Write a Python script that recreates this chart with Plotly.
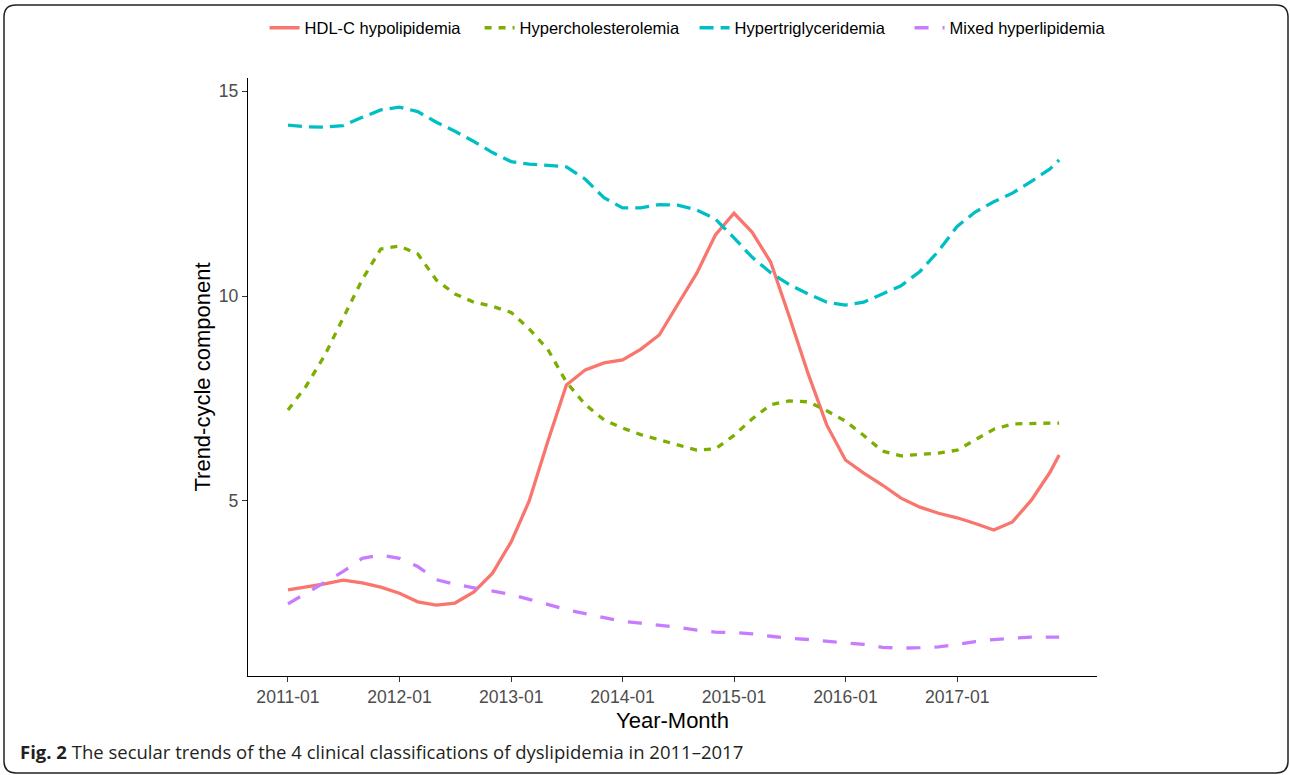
import pandas as pd
import plotly.graph_objects as go

# ---- data (bi-monthly trend-cycle values) ----
months = [d.strftime("%Y-%m-%d") for d in pd.date_range("2011-01-01", "2017-11-01", freq="2MS")] + ["2017-12-01"]

hdl_c = [2.83, 2.90, 2.98, 3.07, 3.00, 2.90, 2.75, 2.54, 2.46, 2.51, 2.78, 3.24,
         4.00, 5.00, 6.45, 7.83, 8.20, 8.37, 8.44, 8.70, 9.05, 9.80, 10.56, 11.49,
         12.02, 11.56, 10.83, 9.50, 8.10, 6.85, 6.00, 5.68, 5.39, 5.07, 4.85, 4.70,
         4.59, 4.45, 4.29, 4.49, 5.02, 5.70, 6.12]
hyperchol = [7.22, 7.80, 8.55, 9.45, 10.40, 11.15, 11.22, 11.03, 10.39, 10.05, 9.85, 9.75,
             9.60, 9.20, 8.70, 7.90, 7.35, 6.98, 6.78, 6.62, 6.50, 6.37, 6.24, 6.27,
             6.60, 7.00, 7.35, 7.44, 7.42, 7.20, 6.95, 6.60, 6.22, 6.10, 6.13, 6.17,
             6.24, 6.50, 6.75, 6.88, 6.90, 6.90, 6.90]
hypertg = [14.17, 14.13, 14.12, 14.16, 14.36, 14.54, 14.61, 14.50, 14.24, 14.02, 13.77, 13.50,
           13.28, 13.22, 13.19, 13.15, 12.85, 12.40, 12.15, 12.15, 12.23, 12.22, 12.10, 11.88,
           11.42, 10.95, 10.57, 10.28, 10.05, 9.85, 9.78, 9.85, 10.05, 10.25, 10.60, 11.10,
           11.70, 12.05, 12.30, 12.51, 12.80, 13.10, 13.32]
mixed = [2.49, 2.75, 3.00, 3.28, 3.60, 3.68, 3.60, 3.40, 3.08, 2.97, 2.88, 2.80,
         2.72, 2.60, 2.48, 2.35, 2.25, 2.15, 2.06, 2.02, 1.98, 1.92, 1.85, 1.80,
         1.79, 1.76, 1.70, 1.65, 1.62, 1.58, 1.55, 1.50, 1.43, 1.41, 1.42, 1.44,
         1.50, 1.57, 1.62, 1.65, 1.68, 1.68, 1.68]

series_names = ["HDL-C hypolipidemia", "Hypercholesterolemia", "Hypertriglyceridemia", "Mixed hyperlipidemia"]
series_values = [hdl_c, hyperchol, hypertg, mixed]
colors = ["#F8766D", "#7CAE00", "#00BFC4", "#C77CFF"]
dashes = ["solid", "7px,7px", "14px,7px", "14px,14px"]

x_ticks = ["2011-01-01", "2012-01-01", "2013-01-01", "2014-01-01", "2015-01-01", "2016-01-01", "2017-01-01"]
x_ticktext = ["2011-01", "2012-01", "2013-01", "2014-01", "2015-01", "2016-01", "2017-01"]
y_ticks = [5, 10, 15]

# ---- layout geometry (page pixels) ----
W, H = 1290, 775
L, R, T, B = 248, 1097, 78, 676
pw, ph = R - L, B - T

def px(xp):
    return (xp - L) / pw

def py(yp):
    return (B - yp) / ph

fig = go.Figure()
for name, vals, c, d in zip(series_names, series_values, colors, dashes):
    fig.add_trace(go.Scatter(x=months, y=vals, mode="lines", name=name,
                             line=dict(color=c, width=3.3, dash=d)))

# rounded border around the whole figure
x0, x1, y0, y1, r = 4, 1288, 5, 773, 12
path = (f"M {px(x0 + r)},{py(y0)} L {px(x1 - r)},{py(y0)} Q {px(x1)},{py(y0)} {px(x1)},{py(y0 + r)} "
        f"L {px(x1)},{py(y1 - r)} Q {px(x1)},{py(y1)} {px(x1 - r)},{py(y1)} "
        f"L {px(x0 + r)},{py(y1)} Q {px(x0)},{py(y1)} {px(x0)},{py(y1 - r)} "
        f"L {px(x0)},{py(y0 + r)} Q {px(x0)},{py(y0)} {px(x0 + r)},{py(y0)} Z")

fig.update_layout(
    width=W, height=H,
    margin=dict(l=L, r=W - R, t=T, b=H - B, autoexpand=False),
    paper_bgcolor="white", plot_bgcolor="white",
    font=dict(family="Liberation Sans, Arial, sans-serif", color="#000000"),
    showlegend=True,
    legend=dict(orientation="h", x=-0.0005, xanchor="left", y=py(28), yanchor="middle",
                indentation=17,
                font=dict(size=16.5, color="#000000"), entrywidth=153, entrywidthmode="pixels",
                bgcolor="rgba(0,0,0,0)"),
    shapes=[dict(type="path", xref="paper", yref="paper", path=path,
                 line=dict(color="#222222", width=1.5), layer="below")],
    annotations=[dict(xref="paper", yref="paper", x=px(18), y=py(751), xanchor="left", yanchor="middle",
                      showarrow=False, align="left",
                      text="<b>Fig. 2</b> The secular trends of the 4 clinical classifications of dyslipidemia in 2011\u20132017",
                      font=dict(family="Open Sans, sans-serif", size=18.5, color="#231f20"))],
)

fig.update_xaxes(type="date", range=["2010-08-23", "2018-04-04"],
                 tickvals=x_ticks, ticktext=x_ticktext,
                 showline=True, linecolor="black", linewidth=1.3, mirror=False,
                 ticks="outside", ticklen=5, tickcolor="#333333", tickwidth=1.2,
                 tickfont=dict(size=17.6, color="#4D4D4D"),
                 showgrid=False, zeroline=False,
                 title=dict(text="Year-Month", font=dict(size=22, color="black"), standoff=6))
fig.update_yaxes(range=[0.73, 15.32], tickvals=y_ticks,
                 showline=True, linecolor="black", linewidth=1.3,
                 ticks="outside", ticklen=5, tickcolor="#333333", tickwidth=1.2,
                 tickfont=dict(size=17.6, color="#4D4D4D"),
                 showgrid=False, zeroline=False,
                 title=dict(text="Trend-cycle component", font=dict(size=22, color="black"), standoff=2))

fig.write_html("out.html", config={"displayModeBar": False},
               post_script="document.body.style.margin='0';")
